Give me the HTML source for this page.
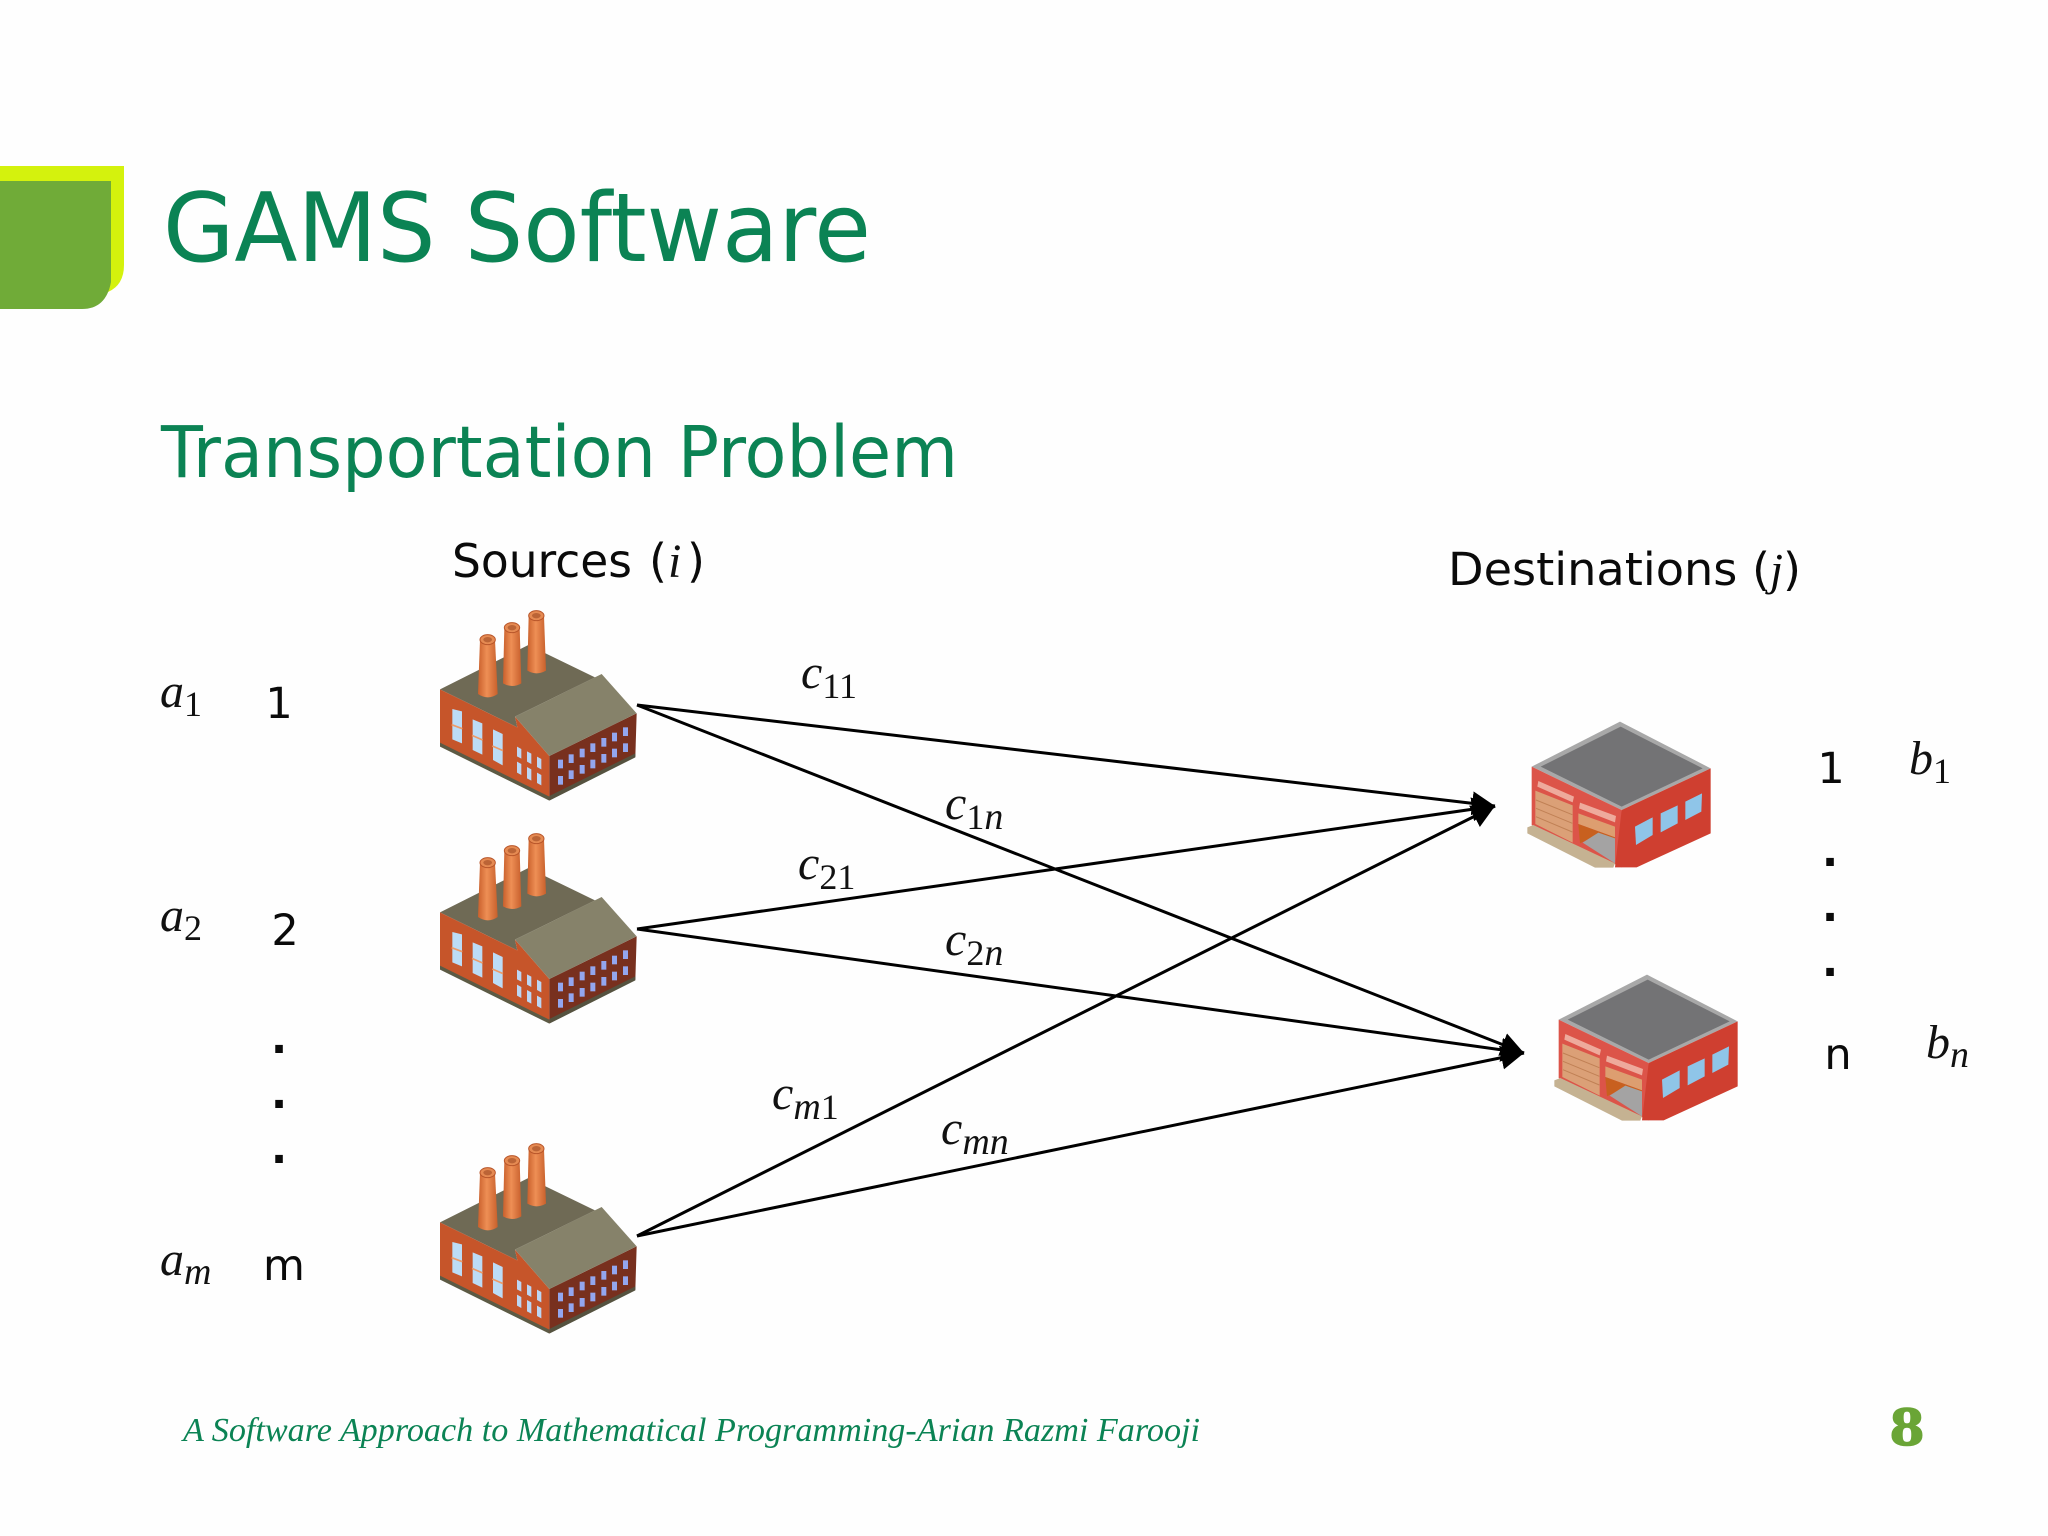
<!DOCTYPE html>
<html>
<head>
<meta charset="utf-8">
<style>
html,body{margin:0;padding:0;background:#fff;width:2048px;height:1536px;overflow:hidden}
svg{display:block}
.d{font-family:"DejaVu Sans",sans-serif;fill:#0a0a0a}
.m{font-family:"Liberation Serif",serif;font-style:italic;font-size:48px;fill:#111}
.s{font-size:38px}
.r{font-style:normal;font-size:36px}
.g{font-family:"DejaVu Sans",sans-serif;fill:#0b8354}
</style>
</head>
<body>
<svg width="2048" height="1536" viewBox="0 0 2048 1536" xmlns="http://www.w3.org/2000/svg">
<defs>
<linearGradient id="ch" x1="0" x2="1" y1="0" y2="0">
<stop offset="0" stop-color="#c9602c"/><stop offset=".45" stop-color="#ee8f55"/><stop offset="1" stop-color="#c8602c"/>
</linearGradient>
<marker id="ah" markerUnits="userSpaceOnUse" markerWidth="30" markerHeight="30" refX="23" refY="12" orient="auto">
<path d="M0 0L23 12L0 24Z" fill="#000"/>
</marker>
<g id="factory">
<polygon points="60,298 325,165 525,262 285,380 292,412" fill="#6f6a55"/>
<polygon points="60,298 292,412 285,380 388,498 388,630 60,468" fill="#c6552a"/>
<polygon points="60,458 388,620 388,632 60,470" fill="#5c5a44"/>
<polygon points="388,498 650,370 646,500 388,630" fill="#78301e"/>
<polygon points="388,618 646,490 646,502 388,632" fill="#55523f"/>
<polygon points="285,380 545,252 650,370 388,498" fill="#86826a"/>
<polygon points="97,357 126,364 126,460 97,448" fill="#bcdcf6"/>
<polygon points="158,388 187,400 187,494 158,480" fill="#bcdcf6"/>
<polygon points="219,418 248,432 248,526 219,510" fill="#bcdcf6"/>
<path d="M95 404L127 416M156 436L188 450M217 468L249 482" stroke="#ec9a68" stroke-width="5"/>
<polygon points="291,470 304,477 304,506 291,499" fill="#bcd6f4"/>
<polygon points="291,515 304,522 304,555 291,548" fill="#bcd6f4"/>
<polygon points="321,484 334,491 334,522 321,515" fill="#bcd6f4"/>
<polygon points="321,531 334,538 334,572 321,565" fill="#bcd6f4"/>
<polygon points="351,500 364,507 364,538 351,531" fill="#bcd6f4"/>
<polygon points="351,548 364,555 364,586 351,579" fill="#bcd6f4"/>
<g fill="#93a6ee">
<rect x="414" y="509" width="15" height="26"/><rect x="446" y="493" width="15" height="26"/><rect x="479" y="476" width="15" height="26"/><rect x="511" y="460" width="15" height="26"/><rect x="544" y="444" width="15" height="26"/><rect x="576" y="428" width="15" height="26"/><rect x="609" y="412" width="15" height="26"/>
<rect x="414" y="558" width="15" height="26"/><rect x="446" y="541" width="15" height="26"/><rect x="479" y="525" width="15" height="26"/><rect x="511" y="509" width="15" height="26"/><rect x="544" y="492" width="15" height="26"/><rect x="576" y="476" width="15" height="26"/><rect x="609" y="460" width="15" height="26"/>
</g>
<path d="M180 150L174 312Q204 332 233 312L225 150Z" fill="url(#ch)"/>
<ellipse cx="203" cy="149" rx="23" ry="15" fill="#e58a52" stroke="#b9562a" stroke-width="3"/>
<ellipse cx="203" cy="149" rx="13" ry="8" fill="#bb6436"/>
<path d="M253 114L249 280Q277 296 304 280L299 114Z" fill="url(#ch)"/>
<ellipse cx="276" cy="113" rx="23" ry="15" fill="#e58a52" stroke="#b9562a" stroke-width="3"/>
<ellipse cx="276" cy="113" rx="13" ry="8" fill="#bb6436"/>
<path d="M326 78L322 242Q350 258 378 242L372 78Z" fill="url(#ch)"/>
<ellipse cx="349" cy="77" rx="23" ry="15" fill="#e58a52" stroke="#b9562a" stroke-width="3"/>
<ellipse cx="349" cy="77" rx="13" ry="8" fill="#bb6436"/>
</g>
<g id="ware">
<polygon points="95,200 360,65 632,205 365,330" fill="#a8a8a8"/>
<polygon points="122,200 362,80 608,205 365,320" fill="#737375"/>
<polygon points="95,200 365,330 365,502 340,490 95,375" fill="#dc5449"/>
<polygon points="365,330 632,205 632,400 410,502 345,502" fill="#cf3f30"/>
<polygon points="106,272 218,316 218,428 106,372" fill="#dba077"/>
<path d="M108 300L217 344M108 325L217 370M108 350L217 396" stroke="#c08055" stroke-width="3"/>
<polygon points="235,340 345,380 345,412 235,372" fill="#dd9e70"/>
<polygon points="235,372 345,412 345,440 280,410 240,430" fill="#c8601f"/>
<polygon points="248,428 295,398 345,415 345,490" fill="#a4a3a3"/>
<polygon points="115,243 222,290 218,307 112,260" fill="#eeaa9c"/>
<polygon points="240,308 348,348 345,367 237,325" fill="#eeaa9c"/>
<polygon points="82,382 100,375 345,490 340,503 285,503 82,400" fill="#c5b292"/>
<polygon points="405,380 458,352 458,405 408,435" fill="#8fc5e8"/>
<polygon points="482,340 533,316 533,370 482,397" fill="#8fc5e8"/>
<polygon points="556,305 606,280 604,335 556,360" fill="#8fc5e8"/>
</g>
</defs>

<rect width="2048" height="1536" fill="#fefefe"/>

<path d="M0 166H124V265Q124 285 108 292L60 300H0Z" fill="#d4f20d"/>
<path d="M0 181H111V282Q106 309 82 309H0Z" fill="#70ab38"/>

<text class="g" x="163" y="261" font-size="95" textLength="708" lengthAdjust="spacingAndGlyphs">GAMS Software</text>
<text class="g" x="161" y="477" font-size="71" textLength="797" lengthAdjust="spacingAndGlyphs">Transportation Problem</text>

<text class="d" x="452" y="577" font-size="46" textLength="180" lengthAdjust="spacingAndGlyphs">Sources</text>
<text class="d" x="649" y="577" font-size="46">(</text>
<text x="668" y="577" font-family="Liberation Serif" font-style="italic" font-size="48" fill="#111">i</text>
<text class="d" x="687" y="577" font-size="46">)</text>
<text class="d" x="1448" y="585" font-size="45" textLength="353" lengthAdjust="spacingAndGlyphs">Destinations (<tspan font-family="Liberation Serif" font-style="italic">j</tspan>)</text>

<use href="#factory" transform="translate(420,590) scale(.33333)"/>
<use href="#factory" transform="translate(420,813) scale(.33333)"/>
<use href="#factory" transform="translate(420,1123) scale(.33333)"/>
<use href="#ware" transform="translate(1500,700) scale(.33333)"/>
<use href="#ware" transform="translate(1527,953) scale(.33333)"/>

<g stroke="#000" stroke-width="3" fill="none">
<line x1="637" y1="705" x2="1495" y2="806" marker-end="url(#ah)"/>
<line x1="637" y1="929" x2="1495" y2="806" marker-end="url(#ah)"/>
<line x1="637" y1="1236" x2="1495" y2="806" marker-end="url(#ah)"/>
<line x1="637" y1="705" x2="1524" y2="1053" marker-end="url(#ah)"/>
<line x1="637" y1="929" x2="1524" y2="1053" marker-end="url(#ah)"/>
<line x1="637" y1="1236" x2="1524" y2="1053" marker-end="url(#ah)"/>
</g>

<text class="m" x="160" y="707">a<tspan class="r" dy="9">1</tspan></text>
<text class="m" x="160" y="931">a<tspan class="r" dy="9">2</tspan></text>
<text class="m" x="160" y="1275">a<tspan class="s" dy="9">m</tspan></text>
<text class="m" x="801" y="688">c<tspan class="r" dy="10">11</tspan></text>
<text class="m" x="945" y="819">c<tspan class="r" dy="10">1</tspan><tspan class="s">n</tspan></text>
<text class="m" x="798" y="879">c<tspan class="r" dy="10">21</tspan></text>
<text class="m" x="945" y="955">c<tspan class="r" dy="10">2</tspan><tspan class="s">n</tspan></text>
<text class="m" x="772" y="1109">c<tspan class="s" dy="10">m</tspan><tspan class="r">1</tspan></text>
<text class="m" x="941" y="1144">c<tspan class="s" dy="10">mn</tspan></text>
<text class="m" x="1909" y="774">b<tspan class="r" dy="9">1</tspan></text>
<text class="m" x="1926" y="1058">b<tspan class="s" dy="9">n</tspan></text>

<text class="d" x="279" y="718" font-size="43" text-anchor="middle">1</text>
<text class="d" x="285" y="945" font-size="43" text-anchor="middle">2</text>
<text class="d" x="284" y="1280" font-size="43" text-anchor="middle">m</text>
<text class="d" x="1831" y="783" font-size="43" text-anchor="middle">1</text>
<text class="d" x="1838" y="1069" font-size="43" text-anchor="middle">n</text>

<text class="d" x="279" y="1053" font-size="43" font-weight="bold" text-anchor="middle">.</text>
<text class="d" x="279" y="1108" font-size="43" font-weight="bold" text-anchor="middle">.</text>
<text class="d" x="279" y="1163" font-size="43" font-weight="bold" text-anchor="middle">.</text>
<text class="d" x="1830" y="866" font-size="43" font-weight="bold" text-anchor="middle">.</text>
<text class="d" x="1830" y="921" font-size="43" font-weight="bold" text-anchor="middle">.</text>
<text class="d" x="1830" y="976" font-size="43" font-weight="bold" text-anchor="middle">.</text>

<text x="183" y="1441" font-family="Liberation Serif" font-style="italic" font-size="34" fill="#0b8354" textLength="1017" lengthAdjust="spacingAndGlyphs">A Software Approach to Mathematical Programming-Arian Razmi Farooji</text>
<text x="1907" y="1445" font-family="DejaVu Serif" font-weight="bold" font-size="50" fill="#6aa536" stroke="#6aa536" stroke-width="1.5" text-anchor="middle">8</text>
</svg>
</body>
</html>
